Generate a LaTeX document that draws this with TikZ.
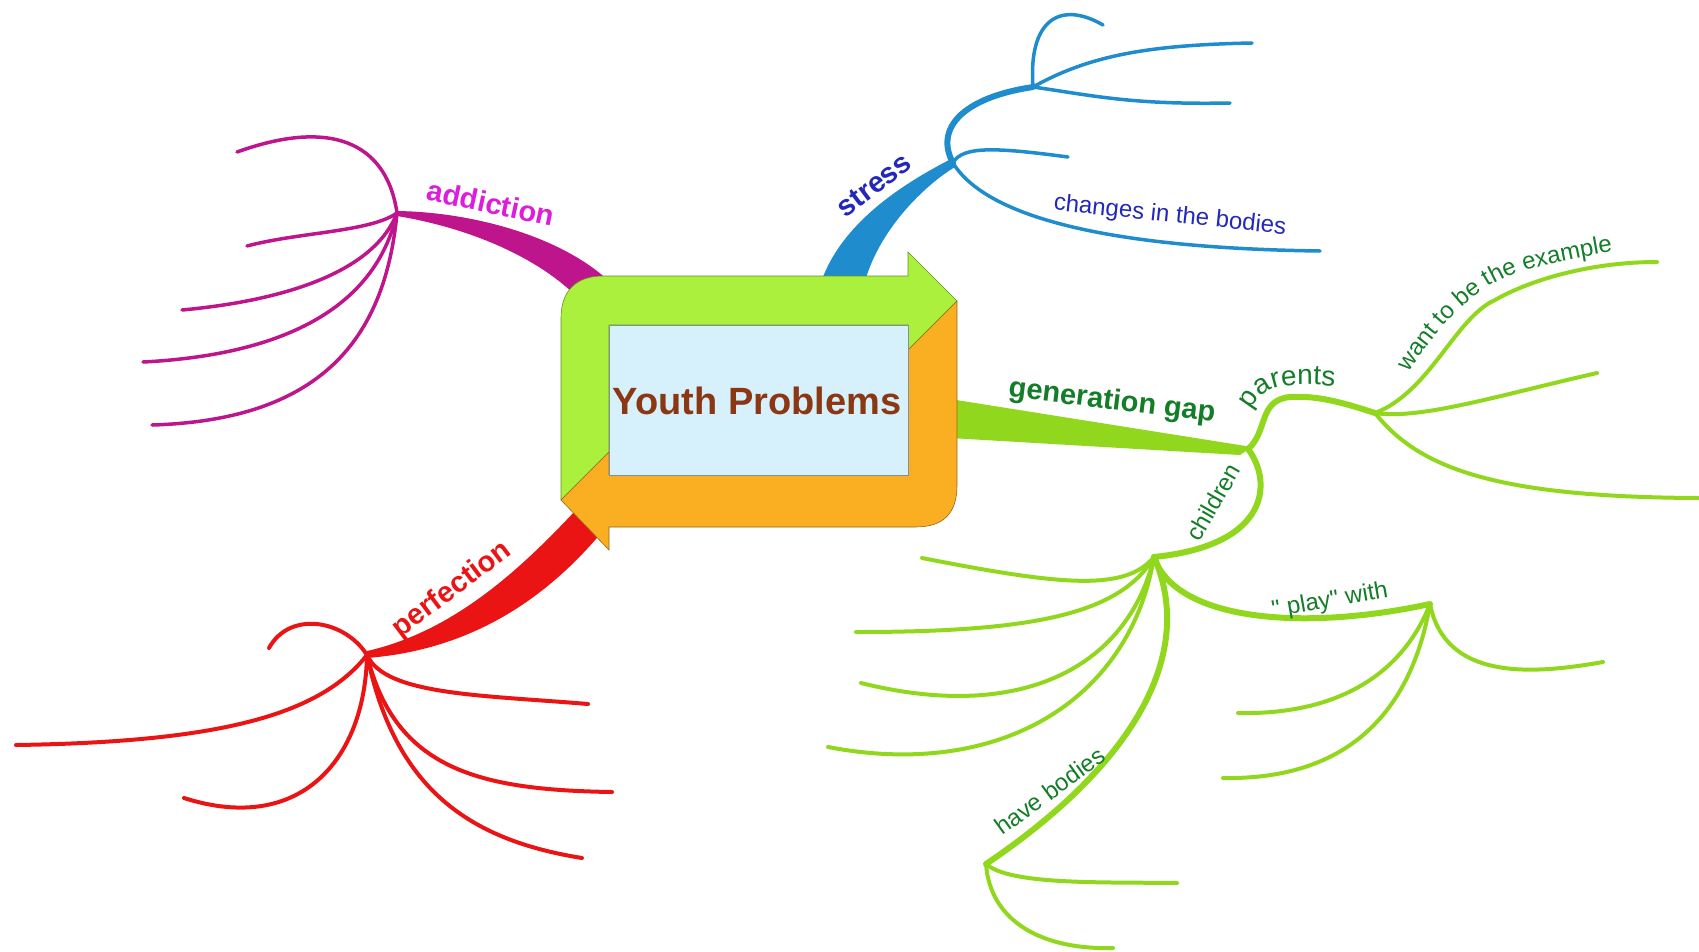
\documentclass[tikz,border=0pt]{standalone}
\usepackage{fontspec}
\setmainfont{Liberation Sans}
\usetikzlibrary{decorations.text}
\definecolor{boxgreen}{RGB}{170,240,60}
\definecolor{boxorange}{RGB}{250,175,35}
\definecolor{boxblue}{RGB}{214,241,251}
\definecolor{titlebrown}{RGB}{140,55,20}
\definecolor{addbranch}{RGB}{190,20,140}
\definecolor{addtext}{RGB}{220,30,220}
\definecolor{stressbranch}{RGB}{30,140,205}
\definecolor{stresstext}{RGB}{35,40,185}
\definecolor{perfbranch}{RGB}{235,20,20}
\definecolor{gapbranch}{RGB}{145,215,30}
\definecolor{gaptext}{RGB}{20,125,40}

\begin{document}
\begin{tikzpicture}[x=1pt, y=-1pt, line cap=round,
    leaf/.style={line width=3.5pt},
    twig/.style={line width=6pt},
    bold label/.style={font=\fontsize{29}{34}\selectfont\bfseries, inner sep=0pt},
    thin label/.style={font=\fontsize{24}{29}\selectfont, inner sep=0pt}]
\useasboundingbox (0,0) rectangle (1699,951);

% hubs of the map
\coordinate (addhub) at (397,213);
\coordinate (stresshub) at (953,163);
\coordinate (stresstop) at (1033,87);
\coordinate (perfhub) at (367,655);
\coordinate (gaphub) at (1248,449);
\coordinate (parenthub) at (1375,413);
\coordinate (childhub) at (1154,557);
\coordinate (playhub) at (1430,604);
\coordinate (bodyhub) at (986,864);

% thick main branches, under the box
\fill[addbranch] (397,211) .. controls (470,212) and (560,235) .. (610,282)
    -- (580,300) .. controls (540,258) and (470,228) .. (397,216) -- cycle;
\fill[stressbranch] (820,285) .. controls (838,230) and (890,190) .. (953,158)
    -- (955,167) .. controls (925,185) and (878,230) .. (864,285) -- cycle;
\fill[perfbranch] (588,497) .. controls (530,560) and (460,630) .. (367,651)
    -- (367,658) .. controls (470,650) and (545,600) .. (602,532) -- cycle;
\fill[gapbranch] (950,399) -- (1252,447) -- (1240,455) -- (950,438) -- cycle;

% central box
\filldraw[fill=boxgreen, draw=boxgreen!60!black, line width=0.6pt]
    (561,500) -- (561,318) .. controls (561,292) and (575,276) .. (603,276)
    -- (908,276) -- (908,252) -- (957,301) -- (908,350) -- (908,325)
    -- (609,325) -- (609,452) -- cycle;
\filldraw[fill=boxorange, draw=boxorange!60!black, line width=0.6pt]
    (561,500) -- (609,452) -- (609,475) -- (908,475) -- (908,350) -- (957,301)
    -- (957,485) .. controls (957,512) and (945,527) .. (915,527)
    -- (609,527) -- (609,550) -- cycle;
\filldraw[fill=boxblue, draw=boxblue!60!black, line width=0.5pt] (609,325) rectangle (908,475);
\node[font=\fontsize{38}{45}\selectfont\bfseries, text=titlebrown] (title) at (757,401) {Youth Problems};

% addiction
\begin{scope}[addbranch, leaf]
\draw (addhub) .. controls (388,150) and (340,115) .. (237,152);
\draw (addhub) .. controls (370,232) and (300,232) .. (247,246);
\draw (addhub) .. controls (375,270) and (290,300) .. (182,310);
\draw (addhub) .. controls (375,310) and (280,355) .. (143,362);
\draw (addhub) .. controls (385,340) and (320,420) .. (152,425);
\end{scope}
\node[bold label, text=addtext, rotate=-12] (addlabel) at (491,203) {addiction};

% stress
\draw[stressbranch, line width=6pt] (stresshub) .. controls (935,130) and (960,98) .. (stresstop);
\begin{scope}[stressbranch, leaf]
\draw (stresshub) .. controls (985,215) and (1100,248) .. (1320,251);
\draw (stresshub) .. controls (962,145) and (1000,148) .. (1068,157);
\draw (stresstop) .. controls (1028,20) and (1060,0) .. (1103,25);
\draw (stresstop) .. controls (1090,55) and (1150,45) .. (1252,43);
\draw (stresstop) .. controls (1090,95) and (1130,105) .. (1230,103);
\end{scope}
\node[bold label, text=stresstext, rotate=37] (stresslabel) at (874,185) {stress};
\node[thin label, text=stresstext, rotate=-6] (changeslabel) at (1170,216) {changes in the bodies};

% perfection
\begin{scope}[perfbranch, leaf, line width=4pt]
\draw (perfhub) .. controls (345,620) and (290,610) .. (269,648);
\draw (perfhub) .. controls (320,715) and (220,742) .. (16,745);
\draw (perfhub) .. controls (365,760) and (300,835) .. (184,798);
\draw (perfhub) .. controls (385,695) and (480,695) .. (588,704);
\draw (perfhub) .. controls (395,770) and (480,790) .. (612,792);
\draw (perfhub) .. controls (395,790) and (470,840) .. (582,858);
\end{scope}
\node[bold label, text=perfbranch, rotate=37] (perflabel) at (452,590) {perfection};

% generation gap
\node[bold label, text=gaptext, rotate=-7] (gaplabel) at (1112,402) {generation gap};
\begin{scope}[gapbranch, twig]
\draw (gaphub) .. controls (1268,432) and (1258,400) .. (1290,397)
    .. controls (1320,395) and (1350,405) .. (parenthub);
\draw (gaphub) .. controls (1272,480) and (1272,545) .. (childhub);
\draw (childhub) .. controls (1195,650) and (1140,760) .. (bodyhub);
\draw (childhub) .. controls (1175,620) and (1300,632) .. (playhub);
\end{scope}
\begin{scope}[gapbranch, leaf, line width=4pt]
\draw (parenthub) .. controls (1430,392) and (1455,318) .. (1495,300)
    .. controls (1530,280) and (1590,262) .. (1657,262);
\draw (parenthub) .. controls (1420,420) and (1500,395) .. (1597,373);
\draw (parenthub) .. controls (1420,470) and (1500,497) .. (1698,498);
\draw (childhub) .. controls (1125,592) and (1060,585) .. (922,558);
\draw (childhub) .. controls (1120,615) and (1030,632) .. (856,632);
\draw (childhub) .. controls (1130,660) and (1030,725) .. (861,683);
\draw (childhub) .. controls (1130,700) and (1000,780) .. (828,747);
\draw (playhub) .. controls (1445,680) and (1530,675) .. (1603,662);
\draw (playhub) .. controls (1400,680) and (1330,715) .. (1238,713);
\draw (playhub) .. controls (1410,720) and (1340,780) .. (1223,778);
\draw (bodyhub) .. controls (1010,885) and (1100,882) .. (1177,883);
\draw (bodyhub) .. controls (990,920) and (1040,950) .. (1113,948);
\end{scope}

% labels on the green twigs
\path[decorate, decoration={text along path, text color=gaptext,
    text={|\fontsize{28}{33}\selectfont|parents}}]
    (1251,410) .. controls (1260,392) and (1273,386) .. (1298,385)
    .. controls (1318,384) and (1340,386) .. (1390,392);
\path[decorate, decoration={text along path, text color=gaptext,
    text={|\fontsize{24}{29}\selectfont|want to be the example}}]
    (1408,372) .. controls (1435,335) and (1465,290) .. (1520,272)
    .. controls (1560,260) and (1610,250) .. (1700,240);
\node[thin label, text=gaptext, rotate=60] (childlabel) at (1213,502) {children};
\node[thin label, text=gaptext, rotate=10] (playlabel) at (1330,601) {\textquotedbl\ play\textquotedbl\ with};
\node[thin label, text=gaptext, rotate=36] (bodylabel) at (1050,791) {have bodies};

\end{tikzpicture}
\end{document}
